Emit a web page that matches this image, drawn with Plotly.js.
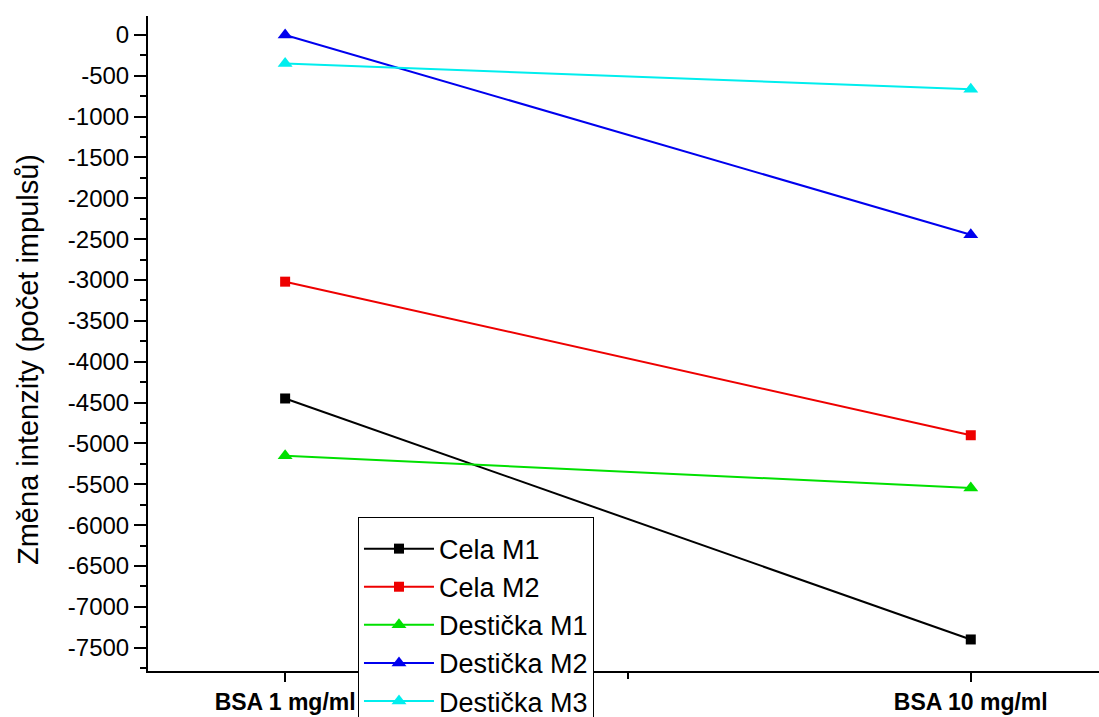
<!DOCTYPE html>
<html>
<head>
<meta charset="utf-8">
<script src="https://cdn.plot.ly/plotly-3.0.1.min.js"></script>
<style>
  html, body { margin: 0; padding: 0; background: #ffffff; }
  #chart { width: 1099px; height: 717px; }
</style>
</head>
<body>
<div id="chart"></div>
<script>
// ---- data ----
const categories = ["BSA 1 mg/ml", "BSA 10 mg/ml"];
const categoryPos = [1, 2];

const seriesNames = ["Cela M1", "Cela M2", "Destička M1", "Destička M2", "Destička M3"];
const celaM1 = [-4450, -7400];
const celaM2 = [-3020, -4900];
const destickaM1 = [-5150, -5545];
const destickaM2 = [0, -2445];
const destickaM3 = [-350, -665];

const yTickVals = [0, -500, -1000, -1500, -2000, -2500, -3000, -3500, -4000, -4500, -5000, -5500, -6000, -6500, -7000, -7500];
const yTickText = ["0", "-500", "-1000", "-1500", "-2000", "-2500", "-3000", "-3500", "-4000", "-4500", "-5000", "-5500", "-6000", "-6500", "-7000", "-7500"];

const yTitle = "Změna intenzity (počet impulsů)";

// ---- styles ----
const seriesValues = [celaM1, celaM2, destickaM1, destickaM2, destickaM3];
const colors = ["#000000", "#ee0000", "#00e000", "#0000ee", "#00eeee"];
const symbols = ["square", "square", "triangle-up", "triangle-up", "triangle-up"];
const sizes = [10, 10, 13, 13, 13];

const traces = seriesValues.map((vals, i) => ({
  type: "scatter",
  mode: "lines+markers",
  name: seriesNames[i],
  x: categoryPos,
  y: vals,
  line: { color: colors[i], width: 2 },
  marker: { color: colors[i], symbol: symbols[i], size: sizes[i] },
  legendgroup: "g" + i
}));

const font = "Liberation Sans, Arial, sans-serif";

const layout = {
  width: 1099,
  height: 717,
  margin: { l: 148, r: 0, t: 16, b: 46, autoexpand: false },
  paper_bgcolor: "#ffffff",
  plot_bgcolor: "#ffffff",
  font: { family: font, color: "#000000" },
  showlegend: true,
  legend: {
    x: 0.2208, xanchor: "left",
    y: 0.235, yanchor: "top",
    bgcolor: "#ffffff",
    bordercolor: "#000000",
    borderwidth: 1,
    font: { family: font, size: 27, color: "#000000" },
    title: { text: "\u00a0", font: { size: 5 } },
    itemwidth: 70,
    tracegroupgap: 7,
    traceorder: "normal"
  },
  xaxis: {
    automargin: false,
    range: [0.8, 2.187],
    tickmode: "array",
    tickvals: categoryPos,
    ticktext: categories,
    tickfont: { family: font, size: 23, weight: "bold", color: "#000000" },
    ticks: "outside",
    ticklen: 9,
    tickwidth: 2,
    tickcolor: "#000000",
    minor: { dtick: 0.5, tick0: 0, ticks: "outside", ticklen: 6, tickwidth: 2, tickcolor: "#000000" },
    showline: true,
    linecolor: "#000000",
    linewidth: 2,
    showgrid: false,
    zeroline: false,
    fixedrange: true
  },
  yaxis: {
    automargin: false,
    range: [-7786, 232],
    tickmode: "array",
    tickvals: yTickVals,
    ticktext: yTickText,
    tickfont: { family: font, size: 24, color: "#000000" },
    ticks: "outside",
    ticklen: 12,
    tickwidth: 2,
    tickcolor: "#000000",
    minor: { dtick: 250, tick0: 0, ticks: "outside", ticklen: 6, tickwidth: 2, tickcolor: "#000000" },
    showline: true,
    linecolor: "#000000",
    linewidth: 2,
    showgrid: false,
    zeroline: false,
    fixedrange: true
  },
  annotations: [{
    text: yTitle,
    xref: "paper", yref: "paper",
    x: (28 - 148) / 951, y: (671 - 360) / 655,
    xanchor: "center", yanchor: "middle",
    textangle: -90,
    showarrow: false,
    font: { family: font, size: 29, color: "#000000" }
  }]
};

Plotly.newPlot("chart", traces, layout, { displayModeBar: false, staticPlot: true });
</script>
</body>
</html>
